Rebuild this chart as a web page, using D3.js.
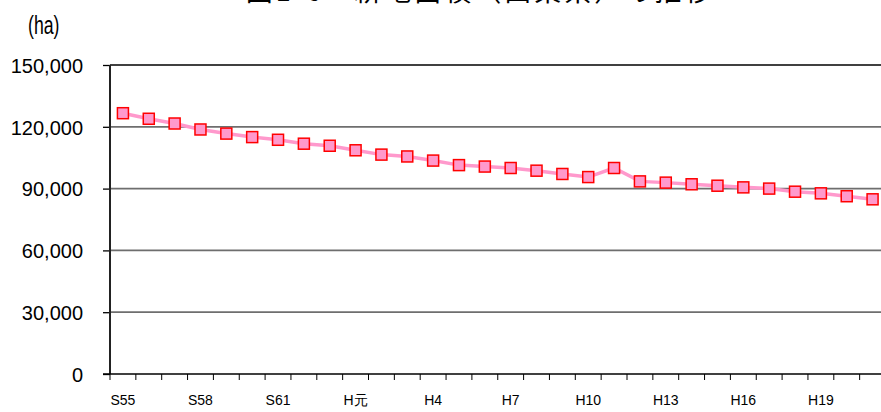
<!DOCTYPE html>
<html><head><meta charset="utf-8">
<script src="https://cdn.jsdelivr.net/npm/d3@7"></script>
<style>body{margin:0;background:#fff}svg{display:block}</style>
</head><body>
<svg id="c" width="881" height="412"></svg>
<script>
const years = ["S55","S56","S57","S58","S59","S60","S61","S62","S63","H元","H2","H3","H4","H5","H6","H7","H8","H9","H10","H11","H12","H13","H14","H15","H16","H17","H18","H19","H20","H21"];
const areas = [126600,123900,121600,118700,116700,115000,113700,111800,110800,108600,106500,105600,103600,101400,100700,100000,98700,97100,95600,100000,93500,92900,92100,91400,90600,90000,88500,87700,86300,84800];
const shownLabels = ["S55","S58","S61","H元","H4","H7","H10","H13","H16","H19"];
const yTicks = [0,30000,60000,90000,120000,150000];
const title = "図1-6　耕地面積（山梨県）の推移";
const unit = "(ha)";

(function(){
const svg = d3.select("#c");
const pL = 110, pT = 65, pB = 374, pR = 885.5;
const x = d3.scaleBand().domain(years).range([pL, pR]).padding(0);
const y = d3.scaleLinear().domain([0,150000]).range([pB, pT]);

svg.append("text").attr("x", 480).attr("y", 1).attr("text-anchor","middle")
  .attr("font-family","'Noto Sans CJK JP'").attr("font-size",27).attr("letter-spacing",3)
  .attr("fill","#000").text(title);
svg.append("text").attr("transform","translate(28,34) scale(0.68,1)")
  .attr("font-family","'Liberation Sans', Arial").attr("font-size",26)
  .attr("fill","#000").text(unit);

// grid
svg.append("g").selectAll("line").data(yTicks.filter(d=>d>0)).join("line")
  .attr("x1", pL).attr("x2", 881).attr("y1", d=>y(d)).attr("y2", d=>y(d))
  .attr("stroke", d=> d===150000 ? "#000" : "#6e6e6e").attr("stroke-width", d=> d===150000 ? 1.3 : 1.8);

// y axis
const ya = svg.append("g").attr("transform",`translate(${pL},0)`)
  .call(d3.axisLeft(y).tickValues(yTicks).tickSize(7).tickPadding(20).tickFormat(d3.format(",")));
ya.select(".domain").remove();
ya.selectAll(".tick line").attr("stroke","#000").attr("stroke-width",1.3);
ya.selectAll("text").attr("font-family","'Liberation Sans', Arial").attr("font-size",20).attr("fill","#000").attr("dy","0.36em");
svg.append("line").attr("x1",pL).attr("x2",pL).attr("y1",pT).attr("y2",pB).attr("stroke","#222").attr("stroke-width",2);

// x axis
const boundaries = years.map(d=>x(d)).concat([pR]);
svg.append("line").attr("x1",pL-7).attr("x2",881).attr("y1",pB).attr("y2",pB).attr("stroke","#000").attr("stroke-width",1.5);
svg.append("g").selectAll("line").data(boundaries).join("line")
  .attr("x1",d=>d).attr("x2",d=>d).attr("y1",pB).attr("y2",pB+6).attr("stroke","#000").attr("stroke-width",1);
svg.append("g").selectAll("text").data(shownLabels).join("text")
  .attr("x", d=>x(d)+x.bandwidth()/2).attr("y", 405).attr("text-anchor","middle")
  .attr("font-family","'Liberation Sans', Arial").attr("font-size",14).attr("fill","#000").text(d=>d);

// line
const cx = d=>x(d)+x.bandwidth()/2;
svg.append("path").datum(years.map((d,i)=>[cx(d), y(areas[i])]))
  .attr("d", d3.line()).attr("fill","none").attr("stroke","#ff99cc").attr("stroke-width",3.5);
svg.append("g").selectAll("rect").data(years).join("rect")
  .attr("x", d=>cx(d)-5.5).attr("y",(d,i)=>y(areas[i])-5.5).attr("width",11).attr("height",11)
  .attr("fill","#ff99cc").attr("stroke","#ff0000").attr("stroke-width",1.5);
})();
</script>
</body></html>
